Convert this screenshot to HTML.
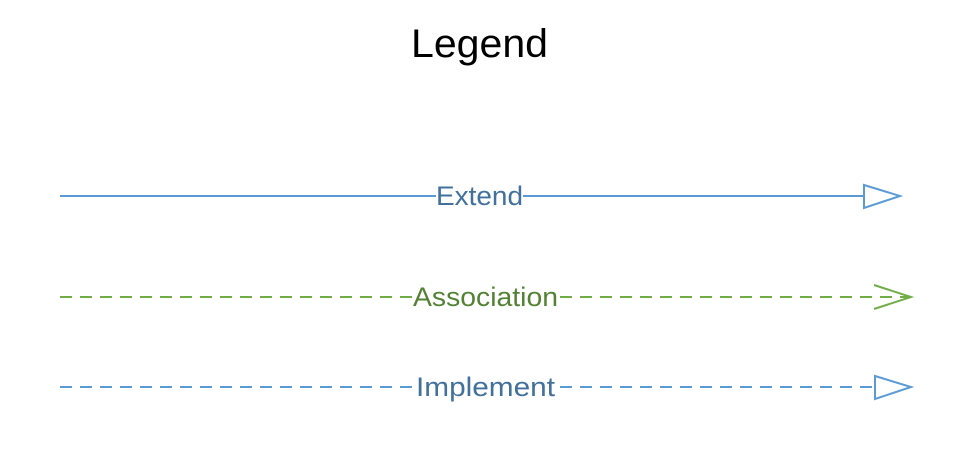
<!DOCTYPE html>
<html><head><style>
html,body{margin:0;padding:0;background:#fff;}
svg{display:block;}
text{font-family:"Liberation Sans",sans-serif;}
</style></head><body>
<svg width="976" height="462" viewBox="0 0 976 462">
<text x="411" y="57" font-size="40" textLength="137" lengthAdjust="spacingAndGlyphs" fill="#000">Legend</text>
<line x1="60" y1="196" x2="864" y2="196" stroke="#5b9bd5" stroke-width="2"/>
<polygon points="864,185 900,196 864,208" fill="#fff" stroke="#5b9bd5" stroke-width="2"/>
<rect x="436" y="180" width="87" height="30" fill="#fff"/>
<text x="436" y="205" font-size="27" textLength="87" lengthAdjust="spacingAndGlyphs" fill="#41719c">Extend</text>

<line x1="60" y1="297" x2="910" y2="297" stroke="#70ad47" stroke-width="2" stroke-dasharray="12,8"/>
<polyline points="874,285 911,297 874,309" fill="none" stroke="#70ad47" stroke-width="2"/>
<rect x="413" y="280" width="145" height="32" fill="#fff"/>
<text x="413" y="306" font-size="27" textLength="145" lengthAdjust="spacingAndGlyphs" fill="#548235">Association</text>

<line x1="60" y1="387" x2="875" y2="387" stroke="#5b9bd5" stroke-width="2" stroke-dasharray="12,8"/>
<polygon points="875,376 911,387 875,399" fill="#fff" stroke="#5b9bd5" stroke-width="2"/>
<rect x="416" y="370" width="139" height="32" fill="#fff"/>
<text x="416" y="396" font-size="27" textLength="139" lengthAdjust="spacingAndGlyphs" fill="#41719c">Implement</text>
</svg>
</body></html>
